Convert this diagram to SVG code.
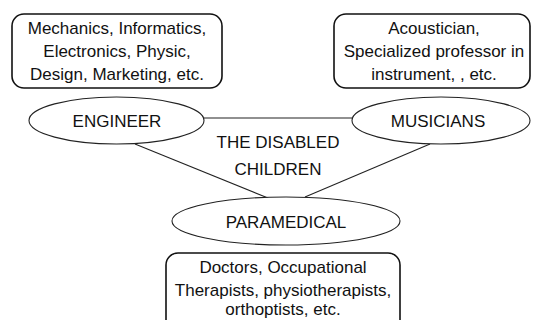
<svg xmlns="http://www.w3.org/2000/svg" width="534" height="320" viewBox="0 0 534 320">
<style>
.box{fill:#fff;stroke:#111;stroke-width:1.6}
.ell{fill:#fff;stroke:#222;stroke-width:1.1}
.ln{stroke:#222;stroke-width:1.1;fill:none}
text{font-family:"Liberation Sans",Arial,sans-serif;font-size:17px;fill:#111;text-anchor:middle}
</style>
<rect width="534" height="320" fill="#fff"/>
<g id="connectors">
<line class="ln" x1="204" y1="118" x2="352" y2="118"/>
<line class="ln" x1="135" y1="144" x2="268" y2="198"/>
<line class="ln" x1="430" y1="144" x2="305" y2="197"/>
</g>
<g id="center-label">
<text x="278" y="148">THE DISABLED</text>
<text x="278" y="175">CHILDREN</text>
</g>
<g id="engineer-box">
<rect class="box" x="12" y="14" width="210" height="74" rx="12"/>
<text x="117" y="34">Mechanics, Informatics,</text>
<text x="117" y="57">Electronics, Physic,</text>
<text x="117" y="80">Design, Marketing, etc.</text>
</g>
<g id="musicians-box">
<rect class="box" x="334" y="14" width="196" height="74" rx="12"/>
<text x="434" y="34">Acoustician,</text>
<text x="434" y="57">Specialized professor in</text>
<text x="434" y="80">instrument, , etc.</text>
</g>
<g id="engineer">
<ellipse class="ell" cx="116.5" cy="120.5" rx="87.5" ry="23.5"/>
<text x="117" y="127">ENGINEER</text>
</g>
<g id="musicians">
<ellipse class="ell" cx="441" cy="120.5" rx="89" ry="23.5"/>
<text x="438" y="127">MUSICIANS</text>
</g>
<g id="paramedical">
<ellipse class="ell" cx="286" cy="221" rx="114" ry="24"/>
<text x="286" y="228">PARAMEDICAL</text>
</g>
<g id="paramedical-box">
<rect class="box" x="166" y="253" width="234" height="90" rx="12"/>
<text x="283" y="273">Doctors, Occupational</text>
<text x="283" y="296">Therapists, physiotherapists,</text>
<text x="283" y="315">orthoptists, etc.</text>
</g>
</svg>
